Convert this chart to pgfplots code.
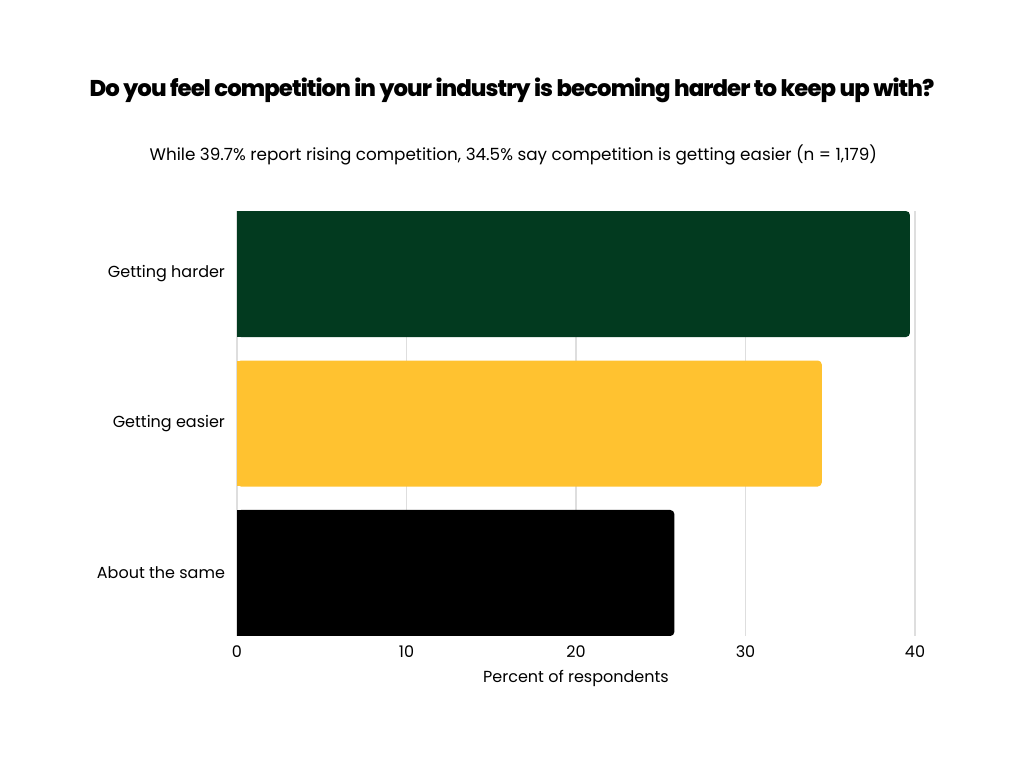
\documentclass[border=0pt]{standalone}
\usepackage{fontspec}
\setmainfont{Poppins}
\newfontfamily\titlefont{Poppins ExtraBold}[LetterSpace=-4]
\usepackage{pgfplots}
\pgfplotsset{compat=1.18}
\definecolor{dgreen}{HTML}{023A1F}
\definecolor{myellow}{HTML}{FFC230}
\definecolor{gridc}{HTML}{DEDEDE}
\begin{document}
\begin{tikzpicture}
\path (0pt,0pt) rectangle (768pt,576pt);
\node[font=\titlefont\fontsize{17.1}{20}\selectfont] at (384pt,508.5pt) {Do you feel competition in your industry is becoming harder to keep up with?};
\node[font=\fontsize{12.6}{15}\selectfont] at (385pt,459.75pt) {While 39.7\% report rising competition, 34.5\% say competition is getting easier (n = 1,179)};
\begin{axis}[
  at={(177.75pt,99pt)}, anchor=south west,
  scale only axis, width=508.5pt, height=318.75pt,
  xmin=0, xmax=40, ymin=-0.4215, ymax=2.4215,
  y dir=reverse,
  xbar, bar width=94.5pt, bar shift=0pt,
  xtick={0,10,20,30,40},
  ytick={0,1,2},
  yticklabels={Getting harder,Getting easier,About the same},
  xmajorgrids, grid style={gridc, line width=0.8pt},
  axis line style={draw=none},
  major tick length=0pt,
  tick label style={font=\fontsize{12}{14}\selectfont},
  /pgf/number format/assume math mode=true,
  xticklabel style={yshift=-3.5pt},
  yticklabel style={xshift=-5.5pt},
  xlabel={Percent of respondents},
  xlabel style={font=\fontsize{12}{14}\selectfont, yshift=-3pt},
]
\addplot[fill=dgreen, draw=none, rounded corners=3pt] coordinates {(39.7,0)};
\addplot[fill=myellow, draw=none, rounded corners=3pt] coordinates {(34.5,1)};
\addplot[fill=black, draw=none, rounded corners=3pt] coordinates {(25.8,2)};
\addplot[fill=dgreen, draw=none, forget plot, bar width=94pt] coordinates {(5,0)};
\addplot[fill=myellow, draw=none, forget plot, bar width=94pt] coordinates {(5,1)};
\addplot[fill=black, draw=none, forget plot, bar width=94pt] coordinates {(5,2)};
\end{axis}
\end{tikzpicture}
\end{document}
